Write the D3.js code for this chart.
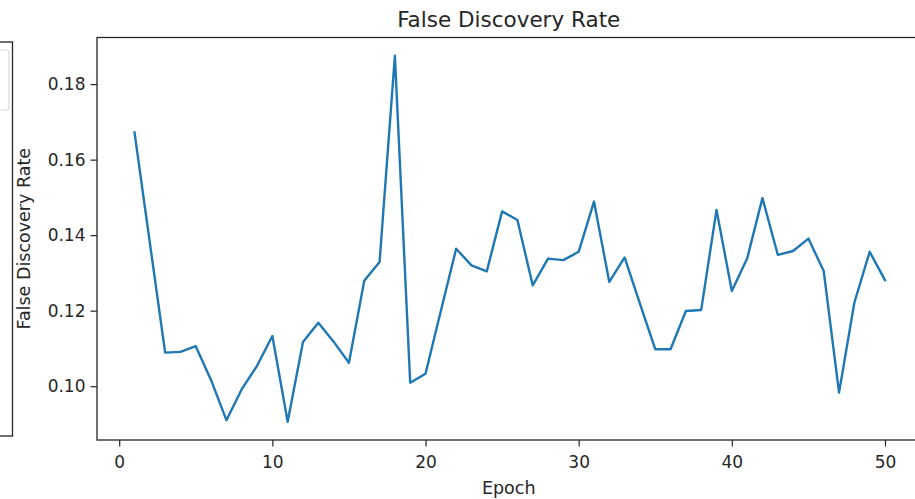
<!DOCTYPE html>
<html>
<head>
<meta charset="utf-8">
<script src="https://cdn.jsdelivr.net/npm/d3@7"></script>
<style>
  body { margin: 0; background: #fff; }
  svg { display: block; font-family: "DejaVu Sans", sans-serif; }
</style>
</head>
<body>
<svg id="chart" width="915" height="499"></svg>
<script>
// epochs 1..50
const epochs = d3.range(1, 51);

// false discovery rate per epoch
const fdr = [
  0.1672, 0.1380, 0.1089, 0.1091, 0.1106, 0.1016, 0.0910, 0.0992, 0.1054, 0.1133,
  0.0906, 0.1117, 0.1168, 0.1118, 0.1062, 0.1279, 0.1329, 0.1875, 0.1009, 0.1033,
  0.1199, 0.1364, 0.1320, 0.1304, 0.1463, 0.1440, 0.1267, 0.1338, 0.1334, 0.1356,
  0.1489, 0.1276, 0.1341, 0.1219, 0.1098, 0.1098, 0.1199, 0.1202, 0.1467, 0.1252,
  0.1338, 0.1498, 0.1348, 0.1358, 0.1391, 0.1305, 0.0983, 0.1221, 0.1356, 0.1281
];

const xTicks = [0, 10, 20, 30, 40, 50];
const yTicks = [0.10, 0.12, 0.14, 0.16, 0.18];

const svg = d3.select("#chart");
const plotLeft = 97, plotRight = 922.5, plotTop = 37.5, plotBottom = 440;

// matplotlib style 5% margins
const xPad = (d3.max(epochs) - d3.min(epochs)) * 0.05;
const yPad = (d3.max(fdr) - d3.min(fdr)) * 0.05;

const x = d3.scaleLinear()
  .domain([d3.min(epochs) - xPad, d3.max(epochs) + xPad])
  .range([plotLeft, plotRight]);
const y = d3.scaleLinear()
  .domain([d3.min(fdr) - yPad, d3.max(fdr) + yPad])
  .range([plotBottom, plotTop]);

const ink = "#262626";

// clipped neighbouring panel on the far left
svg.append("rect")
  .attr("x", -20).attr("y", 42).attr("width", 32.5).attr("height", 394)
  .attr("fill", "none").attr("stroke", ink).attr("stroke-width", 1.3);
svg.append("rect")
  .attr("x", -20).attr("y", 50).attr("width", 29).attr("height", 60).attr("rx", 3)
  .attr("fill", "#fff").attr("stroke", "#d8d8d8").attr("stroke-width", 1.2);

// line
const line = d3.line()
  .x((d, i) => x(epochs[i]))
  .y(d => y(d));

svg.append("path")
  .datum(fdr)
  .attr("d", line)
  .attr("fill", "none")
  .attr("stroke", "#1f77b4")
  .attr("stroke-width", 2.4)
  .attr("stroke-linejoin", "round")
  .attr("stroke-linecap", "square");

// axes
const xAxis = svg.append("g")
  .attr("transform", `translate(0,${plotBottom})`)
  .call(d3.axisBottom(x).tickValues(xTicks).tickSize(6.5).tickPadding(5).tickFormat(d3.format("d")));
const yAxis = svg.append("g")
  .attr("transform", `translate(${plotLeft},0)`)
  .call(d3.axisLeft(y).tickValues(yTicks).tickSize(6.5).tickPadding(5).tickFormat(d3.format(".2f")));

[xAxis, yAxis].forEach(g => {
  g.select(".domain").remove();
  g.selectAll(".tick line").attr("stroke", ink).attr("stroke-width", 1.2);
  g.selectAll(".tick text")
    .attr("fill", ink)
    .style("font-size", "17px")
    .style("font-family", "'DejaVu Sans', sans-serif");
});
xAxis.selectAll(".tick text").attr("dy", "0.95em");

// spines
svg.append("rect")
  .attr("x", plotLeft).attr("y", plotTop)
  .attr("width", plotRight - plotLeft).attr("height", plotBottom - plotTop)
  .attr("fill", "none").attr("stroke", ink).attr("stroke-width", 1.3);

// title and labels
svg.append("text")
  .attr("x", (plotLeft + plotRight) / 2 - 1).attr("y", 26.5)
  .attr("text-anchor", "middle")
  .attr("fill", ink)
  .style("font-size", "21.5px")
  .text("False Discovery Rate");

svg.append("text")
  .attr("x", (plotLeft + plotRight) / 2 - 1).attr("y", 494)
  .attr("text-anchor", "middle")
  .attr("fill", ink)
  .style("font-size", "17.5px")
  .text("Epoch");

svg.append("text")
  .attr("transform", `translate(30,${(plotTop + plotBottom) / 2}) rotate(-90)`)
  .attr("text-anchor", "middle")
  .attr("fill", ink)
  .style("font-size", "17.5px")
  .text("False Discovery Rate");
</script>
</body>
</html>
